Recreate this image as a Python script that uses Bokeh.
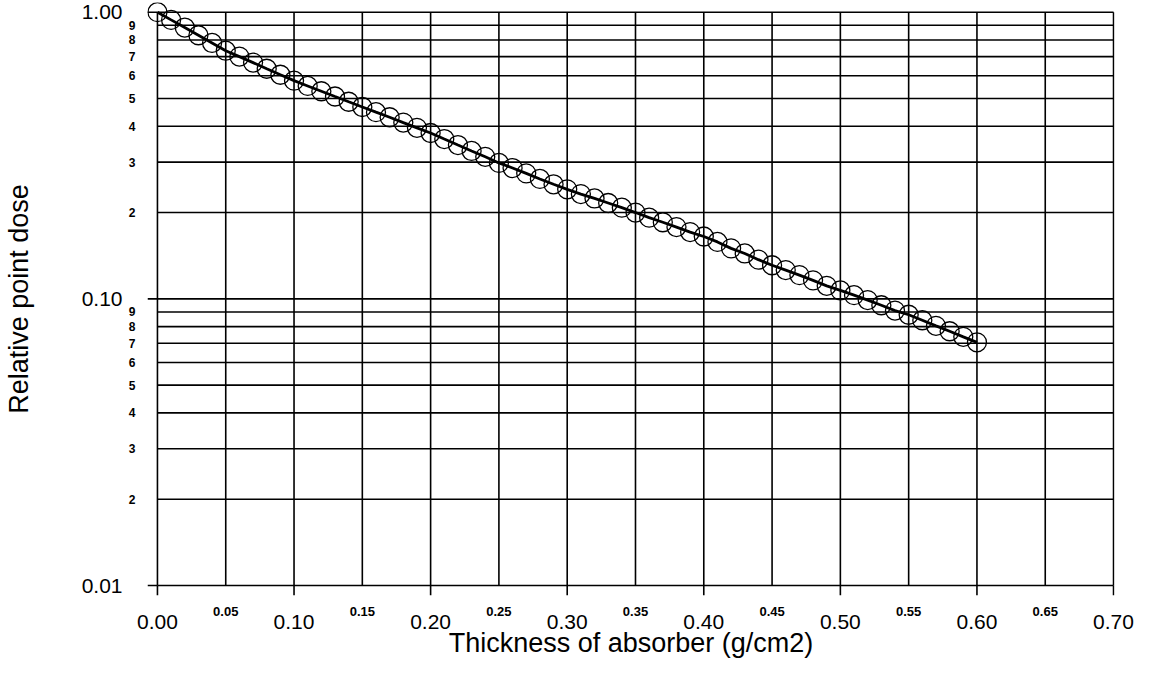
from bokeh.plotting import figure
from bokeh.models import (FixedTicker, CustomJSTickFormatter, ColumnDataSource,
                          Range1d, LinearAxis, LogAxis)
from bokeh.embed import file_html
from bokeh.resources import INLINE

# ---------------- data ----------------
thickness = [0.00, 0.01, 0.02, 0.03, 0.04, 0.05, 0.06, 0.07, 0.08, 0.09,
             0.10, 0.11, 0.12, 0.13, 0.14, 0.15, 0.16, 0.17, 0.18, 0.19,
             0.20, 0.21, 0.22, 0.23, 0.24, 0.25, 0.26, 0.27, 0.28, 0.29,
             0.30, 0.31, 0.32, 0.33, 0.34, 0.35, 0.36, 0.37, 0.38, 0.39,
             0.40, 0.41, 0.42, 0.43, 0.44, 0.45, 0.46, 0.47, 0.48, 0.49,
             0.50, 0.51, 0.52, 0.53, 0.54, 0.55, 0.56, 0.57, 0.58, 0.59,
             0.60]
dose = [1.000, 0.940, 0.884, 0.831, 0.781, 0.734, 0.700, 0.667, 0.635, 0.605,
        0.577, 0.553, 0.530, 0.508, 0.487, 0.467, 0.448, 0.430, 0.412, 0.395,
        0.379, 0.361, 0.344, 0.328, 0.313, 0.298, 0.286, 0.274, 0.262, 0.251,
        0.241, 0.232, 0.224, 0.216, 0.208, 0.200, 0.192, 0.185, 0.178, 0.171,
        0.165, 0.158, 0.150, 0.144, 0.137, 0.131, 0.126, 0.121, 0.116, 0.111,
        0.107, 0.103, 0.099, 0.095, 0.091, 0.088, 0.0842, 0.0805, 0.0771, 0.0737,
        0.0705]

x_major_ticks = [0.0, 0.1, 0.2, 0.3, 0.4, 0.5, 0.6, 0.7]
x_major_labels = ["0.00", "0.10", "0.20", "0.30", "0.40", "0.50", "0.60", "0.70"]
x_minor_ticks = [0.05, 0.15, 0.25, 0.35, 0.45, 0.55, 0.65]
x_minor_labels = ["0.05", "0.15", "0.25", "0.35", "0.45", "0.55", "0.65"]

y_major_ticks = [0.01, 0.1, 1.0]
y_major_labels = ["0.01", "0.10", "1.00"]
y_minor_ticks = [0.02, 0.03, 0.04, 0.05, 0.06, 0.07, 0.08, 0.09,
                 0.2, 0.3, 0.4, 0.5, 0.6, 0.7, 0.8, 0.9]
y_minor_labels = ["2", "3", "4", "5", "6", "7", "8", "9",
                  "2", "3", "4", "5", "6", "7", "8", "9"]

x_title = "Thickness of absorber (g/cm2)"
y_title = "Relative point dose"

# ---------------- layout ----------------
FONT = "Liberation Sans"
W, H = 1140, 666
LEFT, RIGHT, TOP, BOTTOM = 142, 26, 2, 71
TICK = 10                  # outward length of the major tick marks, px
frame_w = W - LEFT - RIGHT
frame_h = H - TOP - BOTTOM
px_per_x = 1372.9          # pixels per unit of thickness
px_per_decade = 286.65     # pixels per decade of dose
x_lo = x_major_ticks[0] - TICK / px_per_x
x_hi = x_lo + frame_w / px_per_x
y_lo = y_major_ticks[0] * 10 ** (-TICK / px_per_decade)
y_hi = y_lo * 10 ** (frame_h / px_per_decade)

p = figure(width=W, height=H, y_axis_type="log",
           x_range=Range1d(x_lo, x_hi), y_range=Range1d(y_lo, y_hi),
           output_backend="svg", toolbar_location=None,
           min_border_left=LEFT, min_border_right=RIGHT,
           min_border_top=TOP, min_border_bottom=BOTTOM)
p.outline_line_color = None
p.xgrid.visible = False
p.ygrid.visible = False
p.background_fill_color = "white"
p.border_fill_color = "white"

fmt_code = """
const i = tks.findIndex(t => Math.abs(t - tick) < 1e-9 * Math.max(1, Math.abs(t)));
return i >= 0 ? lbls[i] : '';
"""


def style_axis(ax, ticks, labels, size, bold, standoff):
    ax.ticker = FixedTicker(ticks=ticks)
    ax.formatter = CustomJSTickFormatter(args=dict(tks=ticks, lbls=labels), code=fmt_code)
    ax.axis_line_color = None
    ax.major_tick_line_color = None
    ax.minor_tick_line_color = None
    ax.major_tick_in = 0
    ax.major_tick_out = 0
    ax.minor_tick_in = 0
    ax.minor_tick_out = 0
    ax.major_label_standoff = standoff
    ax.major_label_text_font = FONT
    ax.major_label_text_font_size = size
    ax.major_label_text_font_style = "bold" if bold else "normal"
    ax.major_label_text_color = "black"


# x axes: inner row = small bold labels, outer row = main labels + title
xa_minor = p.xaxis[0]
style_axis(xa_minor, x_minor_ticks, x_minor_labels, "13px", True, 11)
xa_major = LinearAxis()
style_axis(xa_major, x_major_ticks, x_major_labels, "21px", False, -4)
xa_major.axis_label = x_title
xa_major.axis_label_text_font = FONT
xa_major.axis_label_text_font_size = "27px"
xa_major.axis_label_text_font_style = "normal"
xa_major.axis_label_text_color = "black"
xa_major.axis_label_standoff = -4
p.add_layout(xa_major, "below")

# y axes: inner column = small bold digits, outer column = main labels + title
ya_minor = p.yaxis[0]
style_axis(ya_minor, y_minor_ticks, y_minor_labels, "12px", True, 12)
ya_major = LogAxis()
style_axis(ya_major, y_major_ticks, y_major_labels, "21px", False, 3)
ya_major.axis_label = y_title
ya_major.axis_label_text_font = FONT
ya_major.axis_label_text_font_size = "27px"
ya_major.axis_label_text_font_style = "normal"
ya_major.axis_label_text_color = "black"
ya_major.axis_label_standoff = 45
p.add_layout(ya_major, "left")

# grid lines, axis lines and major tick marks drawn from tick arrays
all_x = sorted(x_major_ticks + x_minor_ticks)
all_y = sorted(y_major_ticks + y_minor_ticks)
vgrid = ColumnDataSource(dict(x0=all_x, x1=all_x,
                              y0=[y_major_ticks[0]] * len(all_x),
                              y1=[y_major_ticks[-1]] * len(all_x)))
hgrid = ColumnDataSource(dict(x0=[x_major_ticks[0]] * len(all_y),
                              x1=[x_major_ticks[-1]] * len(all_y),
                              y0=all_y, y1=all_y))
yticks = ColumnDataSource(dict(x0=[x_lo] * len(y_major_ticks),
                               x1=[x_major_ticks[0]] * len(y_major_ticks),
                               y0=y_major_ticks, y1=y_major_ticks))
xticks = ColumnDataSource(dict(x0=x_major_ticks, x1=x_major_ticks,
                               y0=[y_lo] * len(x_major_ticks),
                               y1=[y_major_ticks[0]] * len(x_major_ticks)))
for s in (vgrid, hgrid, yticks, xticks):
    p.segment(x0="x0", y0="y0", x1="x1", y1="y1", source=s,
              line_color="black", line_width=1.6)

# data
src = ColumnDataSource(dict(x=thickness, y=dose))
p.line("x", "y", source=src, line_color="black", line_width=2.8)
p.scatter("x", "y", source=src, marker="circle", size=19,
          fill_color=None, line_color="black", line_width=1.3)

open("out.html", "w").write(file_html(p, INLINE))
